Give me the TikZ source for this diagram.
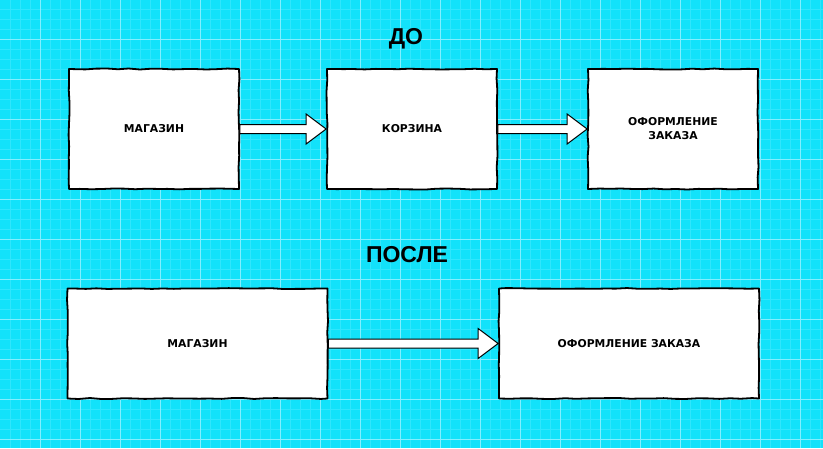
\documentclass[tikz,border=0pt]{standalone}
\usepackage{fontspec}
\newfontfamily\boxfont{DejaVu Sans}
\newfontfamily\headfont{Liberation Sans}
\usepackage{tikz}
\usetikzlibrary{calc}
\usetikzlibrary{decorations.pathmorphing}

\definecolor{sky}{RGB}{18,226,250}
\definecolor{skyminor}{RGB}{48,230,252}
\definecolor{skymajor}{RGB}{130,239,255}

\tikzset{
  sketch/.style={draw=black, fill=white, line width=1.8pt, line join=round, decorate,
    decoration={random steps, segment length=11pt, amplitude=0.5pt},
    font={\boxfont\bfseries\fontsize{10.8}{14}\selectfont}, align=center, inner sep=0pt},
  heading/.style={font={\headfont\bfseries\fontsize{23}{26}\selectfont}, anchor=base},
  fat/.style={draw=black, fill=white, line width=1pt, line join=miter}
}

\newcommand{\fatarrow}[2]{%
  \draw[fat] ($(#1.east)+(0,4.5)$) -- ($(#2.west)+(-20,4.5)$) -- ($(#2.west)+(-20,15)$)
    -- (#2.west) -- ($(#2.west)+(-20,-15)$) -- ($(#2.west)+(-20,-4.5)$)
    -- ($(#1.east)+(0,-4.5)$) -- cycle;}

\begin{document}
\begin{tikzpicture}[x=1pt, y=-1pt]
\pgfmathsetseed{7}
\useasboundingbox (0,0) rectangle (823,448);
\fill[sky] (0,0) rectangle (823,448);

\foreach \x in {10,20,...,820}
	\draw[skyminor, line width=0.6pt] (\x,0) -- (\x,448);
\foreach \y in {9,19,...,439}
	\draw[skyminor, line width=0.6pt] (0,\y) -- (823,\y);
\foreach \x in {40,80,...,800}
	\draw[skymajor, line width=1pt] (\x,0) -- (\x,448);
\foreach \y in {39,79,...,439}
	\draw[skymajor, line width=1pt] (0,\y) -- (823,\y);

\node[heading] (before) at (406,44) {ДО};
\node[heading] (after) at (407,262) {ПОСЛЕ};

\node[sketch, minimum width=170pt, minimum height=120pt] (shop) at (154,129) {МАГАЗИН};
\node[sketch, minimum width=170pt, minimum height=120pt] (cart) at (412,129) {КОРЗИНА};
\node[sketch, minimum width=170pt, minimum height=120pt] (order) at (673,129) {ОФОРМЛЕНИЕ\\ЗАКАЗА};

\node[sketch, minimum width=260pt, minimum height=110pt] (shopnew) at (197.5,343.5) {МАГАЗИН};
\node[sketch, minimum width=260pt, minimum height=110pt] (ordernew) at (629,343.5) {ОФОРМЛЕНИЕ ЗАКАЗА};

\fatarrow{shop}{cart}
\fatarrow{cart}{order}
\fatarrow{shopnew}{ordernew}
\end{tikzpicture}
\end{document}
